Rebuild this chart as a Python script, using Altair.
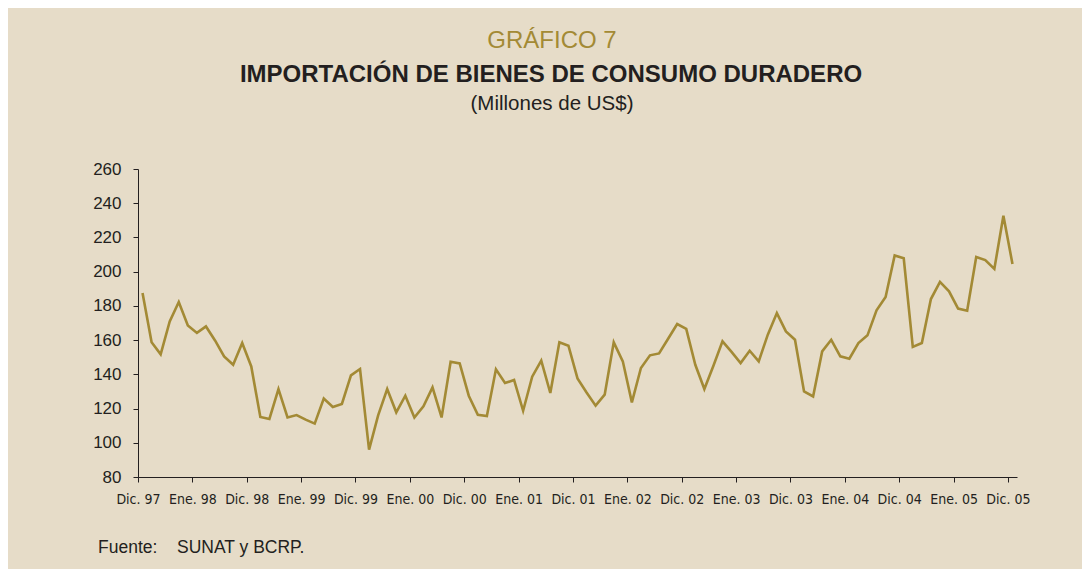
import altair as alt
import pandas as pd

# Monthly values, Dic. 97 .. Dic. 05 (millones de US$)
values = [
    187.5, 158.7, 151.7, 170.9, 182.3, 168.6, 164.2, 168.0, 159.8, 150.5, 145.6, 158.3,
    144.6, 115.1, 113.9, 131.4, 114.8, 116.2, 113.5, 111.2, 125.9, 120.9, 122.7, 139.4,
    143.1, 96.0, 116.0, 131.4, 117.8, 127.5, 114.8, 121.3, 132.4, 114.8, 147.4, 146.4,
    127.5, 116.4, 115.6, 142.9, 134.9, 136.7, 118.7, 138.6, 148.0, 129.1, 158.7, 156.7,
    137.6, 129.4, 121.7, 128.1, 158.7, 147.6, 123.6, 143.7, 151.1, 152.2, 160.8, 169.4,
    166.6, 145.6, 131.4, 145.0, 159.3, 153.1, 146.6, 153.8, 147.6, 163.2, 175.8, 165.1,
    160.2, 130.0, 127.1, 153.4, 160.2, 150.5, 149.1, 158.3, 162.8, 177.4, 185.2, 209.5,
    207.8, 156.0, 158.3, 184.0, 194.0, 188.5, 178.4, 177.2, 208.6, 206.8, 201.6, 232.7,
    204.5,
]
tick_labels = [
    "Dic. 97", "Ene. 98", "Dic. 98", "Ene. 99", "Dic. 99", "Ene. 00", "Dic. 00",
    "Ene. 01", "Dic. 01", "Ene. 02", "Dic. 02", "Ene. 03", "Dic. 03", "Ene. 04",
    "Dic. 04", "Ene. 05", "Dic. 05",
]
y_ticks = [80, 100, 120, 140, 160, 180, 200, 220, 240, 260]

df = pd.DataFrame({"mes": list(range(len(values))), "valor": values})
tick_positions = [-0.5 + 6 * k for k in range(len(tick_labels))]
labels_js = "[" + ",".join("'" + t + "'" for t in tick_labels) + "]"

GOLD = "#A38A35"
INK = "#231F20"
BG = "#E6DCC8"

line = alt.Chart(df).mark_line(color=GOLD, strokeWidth=2.6).encode(
    x=alt.X(
        "mes:Q",
        scale=alt.Scale(domain=[-0.5, len(values) - 0.5], nice=False, zero=False),
        axis=alt.Axis(
            values=tick_positions,
            labelExpr=labels_js + "[round((datum.value + 0.5) / 6)]",
            labelOverlap=False,
            labelFlush=False,
            title=None,
            grid=False,
            domainColor=INK,
            tickColor=INK,
            tickSize=5,
            labelPadding=10,
            labelFont="DejaVu Sans Condensed, Liberation Sans",
            labelFontSize=14,
            labelColor=INK,
        ),
    ),
    y=alt.Y(
        "valor:Q",
        scale=alt.Scale(domain=[80, 260], nice=False, zero=False),
        axis=alt.Axis(
            values=y_ticks,
            title=None,
            grid=False,
            domainColor=INK,
            tickColor=INK,
            tickSize=5,
            labelPadding=12,
            labelFont="Liberation Sans",
            labelFontSize=17,
            labelColor=INK,
        ),
    ),
)

def label(text, x, y, size, color=INK, weight="normal", align="center"):
    return alt.Chart(pd.DataFrame({"t": [text]})).mark_text(
        font="Liberation Sans", fontSize=size, fontWeight=weight, color=color,
        align=align, baseline="middle",
    ).encode(text="t:N", x=alt.value(x), y=alt.value(y))

titles = [
    label("GRÁFICO 7", 414, -128, 24, color=GOLD),
    label("IMPORTACIÓN DE BIENES DE CONSUMO DURADERO", 413, -94, 24, weight="bold"),
    label("(Millones de US$)", 414, -65, 20.5),
    label("Fuente:", -40, 379, 17.5, align="left"),
    label("SUNAT y BCRP.", 39, 379, 17.5, align="left"),
]

chart = alt.layer(line, *titles).properties(
    width=879,
    height=308,
    autosize=alt.AutoSizeParams(type="none"),
    padding={"left": 130, "top": 161, "right": 65, "bottom": 92},
    background=BG,
).configure_view(stroke="transparent")

chart.save("out.html", embed_options={"renderer": "svg", "actions": False})
